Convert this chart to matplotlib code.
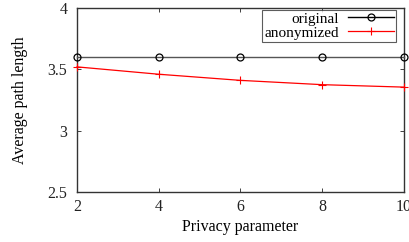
import matplotlib
matplotlib.use("Agg")
import matplotlib.pyplot as plt

privacy = [2, 4, 6, 8, 10]
original = [3.6, 3.6, 3.6, 3.6, 3.6]
anonymized = [3.52, 3.46, 3.41, 3.375, 3.355]
xticks = [2, 4, 6, 8, 10]
yticks = [2.5, 3, 3.5, 4]

plt.rcParams['font.family'] = ['Liberation Serif', 'DejaVu Serif']
fig = plt.figure(figsize=(4.10, 2.42), dpi=100)
ax = fig.add_axes([77/410, 1-192/242, (404-77)/410, (192-8)/242])

ax.plot(privacy, original, color='#555555', lw=1.0, marker='o', ms=5,
        mfc='none', mec='black', mew=0.9, label='original', clip_on=False, zorder=3)
ax.plot(privacy, anonymized, color='red', lw=0.9, marker='+', ms=6,
        mew=0.8, label='anonymized', clip_on=False, zorder=3)

ax.set_xlim(2, 10)
ax.set_ylim(2.5, 4)
ax.set_xticks(xticks)
ax.set_yticks(yticks)
ax.set_xticklabels([str(v) for v in xticks])
ax.set_yticklabels(['2.5', '3', '3.5', '4'])
ax.tick_params(direction='in', top=True, right=True, length=3, width=0.6,
               labelsize=11.5, colors='#222222', pad=5)
ax.tick_params(axis='y', pad=7)
for s in ax.spines.values():
    s.set_linewidth(1.0)
    s.set_color('#333333')
ax.set_xlabel('Privacy parameter', fontsize=11.5, labelpad=3)
ax.set_ylabel('Average path length', fontsize=11.5, labelpad=14)

h, l = ax.get_legend_handles_labels()
leg = ax.legend(h, l, loc='upper right', bbox_to_anchor=(0.976, 0.99),
                frameon=True, fancybox=False, fontsize=11, markerfirst=False,
                handlelength=3.0, borderpad=0.15, labelspacing=0.0,
                handletextpad=0.6, borderaxespad=0.0)
leg.get_frame().set_edgecolor('#333333')
leg.get_frame().set_linewidth(0.8)
leg.legend_handles[0].set_color('black')
for t in leg.get_texts():
    t.set_ha('right')

fig.savefig('out.png', dpi=100)
